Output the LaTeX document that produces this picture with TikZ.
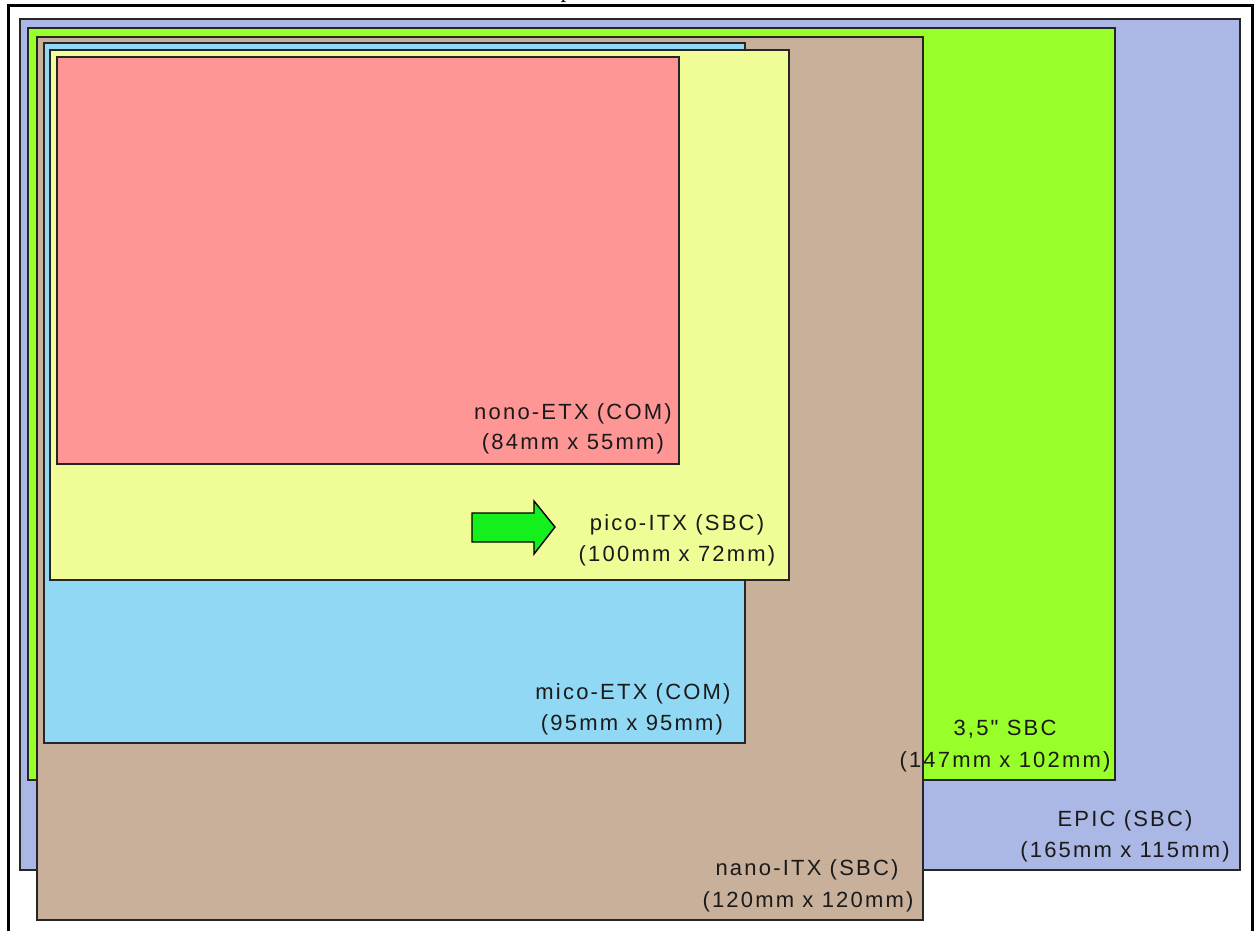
\documentclass[tikz,border=0pt]{standalone}
\usepackage{fontspec}
\newfontfamily\labfont[LetterSpace=10]{Liberation Sans}
\newfontfamily\capfont{Liberation Serif}
\definecolor{epicc}{HTML}{ABB7E4}
\definecolor{sbcc}{HTML}{99FF2A}
\definecolor{nanoc}{HTML}{C8B09A}
\definecolor{micoc}{HTML}{90D8F4}
\definecolor{picoc}{HTML}{F0FC96}
\definecolor{nonoc}{HTML}{FF9696}
\definecolor{arrowc}{HTML}{14F01E}
\definecolor{edgec}{HTML}{262626}
\definecolor{textc}{HTML}{1A1A1A}
\tikzset{
  board/.style={draw=edgec, line width=1.6pt},
  lab/.style={inner sep=0pt, anchor=base, text=textc, font=\labfont\fontsize{22}{26}\selectfont},
}
\begin{document}
\begin{tikzpicture}[x=1pt,y=-1pt]
\useasboundingbox (0,0) rectangle (1256,930);
\clip (0,0) rectangle (1256,930);
\fill[white] (0,0) rectangle (1256,930);
% clipped caption above the frame
\node[inner sep=0pt, anchor=base west, font=\capfont\fontsize{24}{28}\selectfont] (cap) at (560.5,-2.5) {p};
% outer frame
\draw[line width=3pt, black] (8,940) -- (8,5) -- (1252,5) -- (1252,940);
% boards
\draw[board, fill=epicc] (20,19) rectangle (1240,870);
\draw[board, fill=sbcc]  (28,28) rectangle (1115,780);
\draw[board, fill=nanoc] (37,37) rectangle (923,920);
\draw[board, fill=micoc] (44,43) rectangle (745,743);
\draw[board, fill=picoc] (50,50) rectangle (789,580);
\draw[board, fill=nonoc] (57,57) rectangle (679,464);
% arrow
\draw[line width=1.4pt, draw=black, fill=arrowc, line join=miter]
  (472,513) -- (534,513) -- (534,501) -- (555,527) -- (534,554) -- (534,542) -- (472,542) -- cycle;
% labels
\node[lab] (nonoA) at (573,419) {nono-ETX (COM)};
\node[lab] (nonoB) at (573,449) {(84mm x 55mm)};
\node[lab] (picoA) at (677,530) {pico-ITX (SBC)};
\node[lab] (picoB) at (677,561) {(100mm x 72mm)};
\node[lab] (micoA) at (633,699) {mico-ETX (COM)};
\node[lab] (micoB) at (632,730) {(95mm x 95mm)};
\node[lab] (sbcA) at (1005,735) {3,5" SBC};
\node[lab] (sbcB) at (1005,767) {(147mm x 102mm)};
\node[lab] (epicA) at (1125,826) {EPIC (SBC)};
\node[lab] (epicB) at (1125,857) {(165mm x 115mm)};
\node[lab] (nanoA) at (807,875) {nano-ITX (SBC)};
\node[lab] (nanoB) at (808,907) {(120mm x 120mm)};
\end{tikzpicture}
\end{document}
